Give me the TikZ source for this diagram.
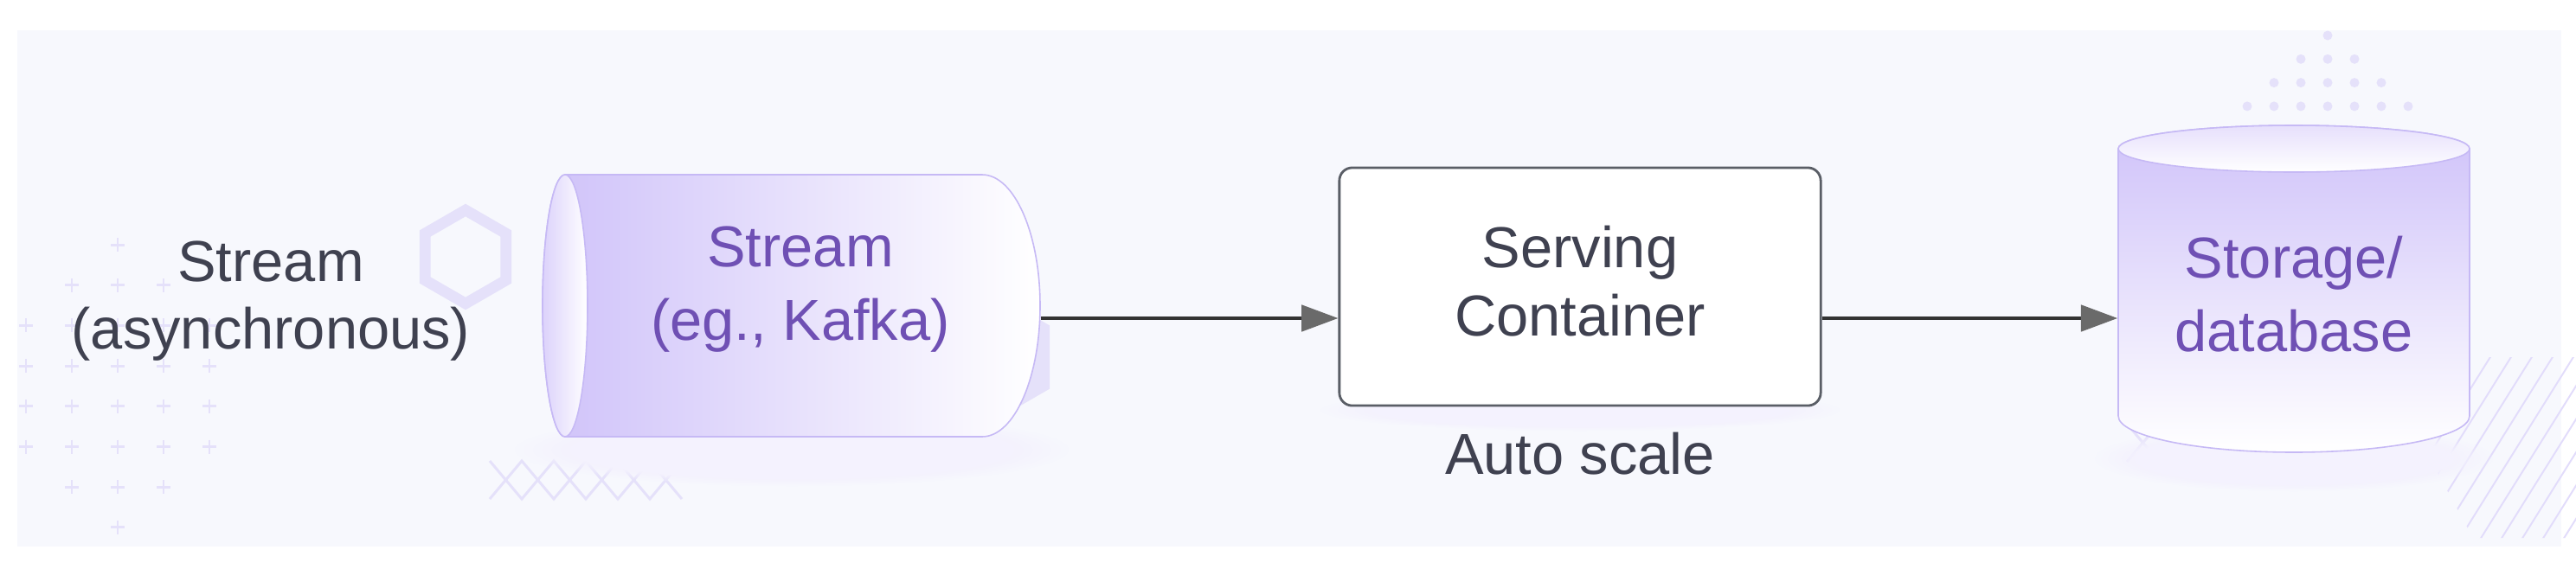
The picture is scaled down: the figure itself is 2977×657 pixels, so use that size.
\documentclass[tikz,border=0pt]{standalone}
\usepackage{fontspec}
\setmainfont{Liberation Sans}
\usepackage{xcolor}
\usetikzlibrary{calc,
	positioning,
	arrows.meta,
	fadings}
\definecolor{panel}{HTML}{F7F8FD}
\definecolor{deco}{HTML}{E5E1FA}
\definecolor{hatchc}{HTML}{E2DCFB}
\definecolor{lilac}{HTML}{CFC2F9}
\definecolor{lilacface}{HTML}{DCD2FB}
\definecolor{rim}{HTML}{C6B9F5}
\definecolor{ink}{HTML}{3F4150}
\definecolor{plum}{HTML}{6F50B4}
\definecolor{wire}{HTML}{333333}
\definecolor{tipgrey}{HTML}{6A6A6A}
\definecolor{edge}{HTML}{5A5E66}
\def\bodyfont{\fontsize{19}{24.2}\selectfont}
\def\tightfont{\fontsize{19}{22.4}\selectfont}

\begin{document}
\begin{tikzpicture}[x=0.01cm, y=-0.01cm,
	deco/.style={draw=deco, line width=0.85pt},
	dot/.style={fill=deco},
	hatch/.style={draw=hatchc, line width=0.55pt},
	shell/.style={draw=rim, line width=0.45pt},
	glow/.style={fill=lilac!22, path fading=circle with fuzzy edge 20 percent},
	lbl/.style={align=center, text=ink, font=\tightfont, inner sep=0pt},
	stor/.style={align=center, text=plum, font=\bodyfont, inner sep=0pt},
	flow/.style={draw=wire, line width=1.1pt, -{Triangle[length=12pt, width=8.6pt, color=tipgrey]}}]
	\useasboundingbox (0,0) rectangle (2977,657);
	\fill[white] (0,0) rectangle (2977,657);
	\fill[panel] (20,35) rectangle (2960,632);
	\foreach \r/\ca/\cb in {0/2/2,1/1/3,2/0/4,3/0/4,4/0/4,5/0/4,6/1/3,7/2/2} {
		\foreach \c in {\ca,...,\cb} {
			\draw[deco] ({30+53*\c-8},{283+46.7*\r}) -- ++(16,0);
			\draw[deco] ({30+53*\c},{283+46.7*\r-8}) -- ++(0,16);
		}
	}
	\draw[deco, line width=3.6pt, shift={(538,297)}] (30:54) -- (90:54) -- (150:54) -- (210:54) -- (270:54) -- (330:54) -- cycle;
	\fill[dot, shift={(1150,413)}] (30:73) -- (90:73) -- (150:73) -- (210:73) -- (270:73) -- (330:73) -- cycle;
	\foreach \sgn in {-1,1} {
		\draw[deco] (566,{555+\sgn*22}) \foreach \k in {1,...,6} {-- ({566+37*\k},{555+\sgn*22*cos(180*\k)})};
		\draw[deco] (2458,{512+\sgn*22}) \foreach \k in {1,...,5} {-- ({2458+37*\k},{512+\sgn*22*cos(180*\k)})};
	}
	\foreach \r in {0,1,2,3} {
		\foreach \c in {-\r,...,\r} {
			\fill[dot] ({2690+31*(\c)},{41+27.3*\r}) circle (5.5);
		}
	}
	\begin{scope}
		\clip (2744,413) -- (2977,413) -- (2977,622) -- (2858,622) -- cycle;
		\foreach \hx in {2640,2664,...,3000} {
			\draw[hatch] (\hx,640) -- ++(150,-240);
		}
	\end{scope}
	\fill[glow] (915,520) ellipse [x radius=320, y radius=42];
	\fill[glow] (1826,474) ellipse [x radius=300, y radius=24];
	\fill[glow] (2651,530) ellipse [x radius=230, y radius=38];
	\draw[shell, left color=lilac, right color=white] (653,202) -- (1135,202)
		arc[start angle=-90, end angle=90, x radius=67, y radius=151.5] -- (653,505)
		arc[start angle=90, end angle=270, x radius=26, y radius=151.5] -- cycle;
	\draw[shell, left color=lilacface, right color=white] (653,353.5) ellipse [x radius=26, y radius=151.5];
	\draw[shell, top color=lilac, bottom color=white] (2448,172) -- (2448,481)
		arc[start angle=180, end angle=0, x radius=203, y radius=42] -- (2854,172)
		arc[start angle=0, end angle=-180, x radius=203, y radius=27] -- cycle;
	\draw[shell, top color=lilacface!70, bottom color=white] (2651,172) ellipse [x radius=203, y radius=27];
	\node[lbl] (src) at (313,348) {Stream\\(asynchronous)};
	\node[stor, minimum width=5.54cm] (kafka) at (925,334.5) {Stream\\(eg., Kafka)};
	\node[lbl, draw=edge, line width=0.8pt, fill=white, rounded corners=0.15cm,
		minimum width=5.56cm, minimum height=2.75cm] (serve) at (1826,331.5) {Serving\\Container\vphantom{g}};
	\node[lbl, below=0.29cm of serve] (scale) {Auto scale};
	\node[stor, minimum width=4.06cm] (db) at (2651,340.5) {Storage/\\database};
	\coordinate (lane) at (0,368);
	\draw[flow] (kafka.east |- lane) -- (serve.west |- lane);
	\draw[flow] (serve.east |- lane) -- (db.west |- lane);
\end{tikzpicture}
\end{document}
